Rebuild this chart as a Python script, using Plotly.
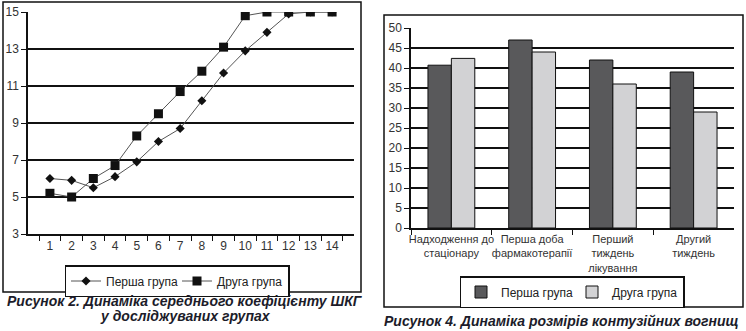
import plotly.graph_objects as go

W, H = 746, 331

# ---- data: line chart (Рисунок 2) ----
days = [str(i) for i in range(1, 15)]
group1_shkg = [6.0, 5.9, 5.5, 6.1, 6.9, 8.0, 8.7, 10.2, 11.7, 12.9, 13.9, 14.9, 15.0, 15.0]
group2_shkg = [5.2, 5.0, 6.0, 6.7, 8.3, 9.5, 10.7, 11.8, 13.1, 14.8, 15.0, 15.0, 15.0, 15.0]
line_yticks = [3, 5, 7, 9, 11, 13, 15]

# ---- data: bar chart (Рисунок 4) ----
stages = ["Надходження до<br>стаціонару", "Перша доба<br>фармакотерапії",
          "Перший<br>тиждень<br>лікування", "Другий<br>тиждень"]
group1_size = [40.7, 47.0, 42.0, 39.0]
group2_size = [42.4, 44.0, 36.0, 29.0]
bar_yticks = [0, 5, 10, 15, 20, 25, 30, 35, 40, 45, 50]

series_names = ["Перша група", "Друга група"]

FONT = "Liberation Sans, Arial, sans-serif"
TXT = "#333333"

def px(x):
    return x / W

def py(y):
    return 1 - y / H

fig = go.Figure()

fig.add_trace(go.Scatter(
    x=days, y=group1_shkg, name=series_names[0], mode="lines+markers",
    line=dict(color="#555555", width=1),
    marker=dict(symbol="diamond", size=7, color="#111111"),
    xaxis="x", yaxis="y", legend="legend"))
fig.add_trace(go.Scatter(
    x=days, y=group2_shkg, name=series_names[1], mode="lines+markers",
    line=dict(color="#555555", width=1),
    marker=dict(symbol="square", size=9, color="#111111"),
    xaxis="x", yaxis="y", legend="legend"))

fig.add_trace(go.Bar(
    x=stages, y=group1_size, name=series_names[0],
    marker=dict(color="#59595b", line=dict(color="#111111", width=1)),
    xaxis="x2", yaxis="y2", legend="legend2"))
fig.add_trace(go.Bar(
    x=stages, y=group2_size, name=series_names[1],
    marker=dict(color="#d2d2d4", line=dict(color="#111111", width=1)),
    xaxis="x2", yaxis="y2", legend="legend2"))

axis_common = dict(showline=True, linecolor="#111111", linewidth=1.5,
                   ticks="outside", ticklen=5, tickcolor="#111111", tickwidth=1.2,
                   automargin=False, tickangle=0,
                   tickfont=dict(family=FONT, size=12, color=TXT))

fig.update_layout(
    width=W, height=H, margin=dict(l=0, r=0, t=0, b=0),
    paper_bgcolor="white", plot_bgcolor="white",
    barmode="group", bargap=0.42, bargroupgap=0,
    xaxis=dict(domain=[px(28), px(354)], type="category", tickson="boundaries",
               showgrid=False, anchor="y", **axis_common),
    yaxis=dict(domain=[py(234), py(12)], range=[3, 15], tickvals=line_yticks,
               showgrid=True, gridcolor="#111111", gridwidth=1.5, zeroline=False,
               anchor="x", **axis_common),
    xaxis2=dict(domain=[px(411), px(734)], type="category", tickson="boundaries",
                showgrid=False, anchor="y2",
                **{**axis_common, "tickfont": dict(family=FONT, size=11, color=TXT)}),
    yaxis2=dict(domain=[py(228), py(28)], range=[0, 50], tickvals=bar_yticks,
                showgrid=True, gridcolor="#111111", gridwidth=1.5, zeroline=False,
                anchor="x2", **axis_common),
    legend=dict(x=px(177), y=py(265), xanchor="center", yanchor="top",
                orientation="h", bordercolor="#111111", borderwidth=1.5,
                font=dict(family=FONT, size=12, color="#222222"),
                entrywidth=66, entrywidthmode="pixels", itemwidth=30,
                bgcolor="white"),
    legend2=dict(x=px(572), y=py(276), xanchor="center", yanchor="top",
                 orientation="h", bordercolor="#111111", borderwidth=1.5,
                 font=dict(family=FONT, size=12, color="#222222"),
                 entrywidth=66, entrywidthmode="pixels", itemwidth=30,
                 bgcolor="white"),
    showlegend=True,
)

# chart frames
fig.add_shape(type="rect", xref="paper", yref="paper",
              x0=px(3), x1=px(361), y0=py(292), y1=py(2),
              line=dict(color="#111111", width=1.5))
fig.add_shape(type="rect", xref="paper", yref="paper",
              x0=px(384), x1=px(743), y0=py(307), y1=py(15),
              line=dict(color="#111111", width=1.5))

cap_font = dict(family=FONT, size=14, color="#1c1c2a")
fig.add_annotation(xref="paper", yref="paper", x=px(185), y=py(301),
                   text="<b><i>Рисунок 2. Динаміка середнього коефіцієнту ШКГ</i></b>",
                   showarrow=False, font=cap_font, xanchor="center", yanchor="middle")
fig.add_annotation(xref="paper", yref="paper", x=px(185), y=py(316),
                   text="<b><i>у досліджуваних групах</i></b>",
                   showarrow=False, font=cap_font, xanchor="center", yanchor="middle")
fig.add_annotation(xref="paper", yref="paper", x=px(561), y=py(321),
                   text="<b><i>Рисунок 4. Динаміка розмірів контузійних вогнищ</i></b>",
                   showarrow=False, font=cap_font, xanchor="center", yanchor="middle")

fig.write_html("out.html")
